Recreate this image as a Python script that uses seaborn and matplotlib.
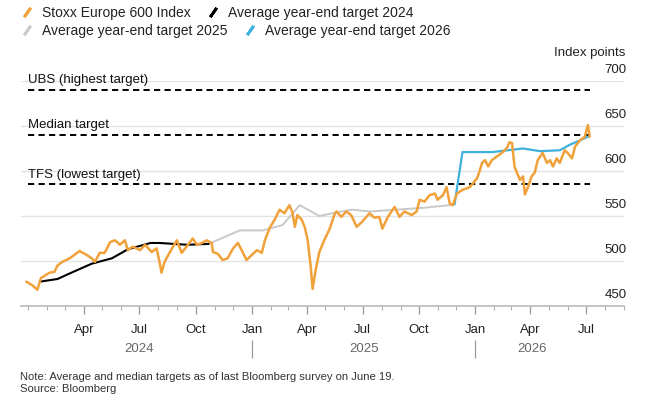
import matplotlib
matplotlib.use("Agg")
import matplotlib.pyplot as plt
import matplotlib.dates as mdates
import matplotlib.transforms as mtransforms
from matplotlib.lines import Line2D
import pandas as pd
import seaborn as sns

# Stoxx Europe 600 index
stoxx_dates = [
    "2023-12-29", "2024-01-08", "2024-01-16", "2024-01-22", "2024-02-05", "2024-02-13",
    "2024-02-18", "2024-02-26", "2024-03-09", "2024-03-25", "2024-04-05", "2024-04-14",
    "2024-04-19", "2024-04-27", "2024-05-05", "2024-05-14", "2024-05-22", "2024-05-30",
    "2024-06-07", "2024-06-12", "2024-06-20", "2024-07-02", "2024-07-10", "2024-07-21",
    "2024-07-29", "2024-08-03", "2024-08-06", "2024-08-11", "2024-08-19", "2024-08-31",
    "2024-09-08", "2024-09-18", "2024-09-26", "2024-10-03", "2024-10-11", "2024-10-19",
    "2024-10-27", "2024-10-29", "2024-11-06", "2024-11-14", "2024-11-22", "2024-12-01",
    "2024-12-09", "2024-12-15", "2024-12-23", "2025-01-01", "2025-01-09", "2025-01-17",
    "2025-01-22", "2025-01-30", "2025-02-07", "2025-02-15", "2025-02-23", "2025-03-03",
    "2025-03-08", "2025-03-12", "2025-03-16", "2025-03-23", "2025-03-28", "2025-04-02",
    "2025-04-07", "2025-04-10", "2025-04-15", "2025-04-21", "2025-04-29", "2025-05-08",
    "2025-05-16", "2025-05-19", "2025-05-27", "2025-06-04", "2025-06-12", "2025-06-21",
    "2025-06-29", "2025-07-07", "2025-07-12", "2025-07-20", "2025-07-28", "2025-08-02",
    "2025-08-11", "2025-08-22", "2025-08-30", "2025-09-07", "2025-09-19", "2025-09-27",
    "2025-10-02", "2025-10-10", "2025-10-18", "2025-10-27", "2025-10-31", "2025-11-09",
    "2025-11-15", "2025-11-20", "2025-11-25", "2025-12-02", "2025-12-11", "2025-12-23",
    "2026-01-04", "2026-01-08", "2026-01-12", "2026-01-17", "2026-01-22", "2026-01-28",
    "2026-02-05", "2026-02-13", "2026-02-21", "2026-02-26", "2026-03-02", "2026-03-06",
    "2026-03-10", "2026-03-15", "2026-03-20", "2026-03-23", "2026-03-28", "2026-04-03",
    "2026-04-08", "2026-04-13", "2026-04-21", "2026-04-28", "2026-05-03", "2026-05-08",
    "2026-05-14", "2026-05-19", "2026-05-27", "2026-06-01", "2026-06-08", "2026-06-13",
    "2026-06-21", "2026-06-29", "2026-07-04", "2026-07-07",
]
stoxx_values = [
    477, 473, 468, 481, 487, 488,
    495, 499, 503, 511, 507, 503,
    499, 509, 509, 521, 523, 518,
    523, 512, 516, 512, 518, 510,
    514, 498, 487, 499, 509, 523,
    509, 518, 525, 518, 520, 523,
    520, 510, 508, 501, 503, 514,
    520, 512, 501, 507, 512, 509,
    523, 537, 546, 557, 553, 562,
    554, 538, 551, 546, 538, 523,
    493, 469, 490, 510, 523, 536,
    552, 555, 549, 555, 551, 538,
    543, 549, 553, 548, 549, 536,
    549, 560, 549, 555, 551, 555,
    568, 566, 573, 575, 568, 573,
    582, 564, 562, 575, 579, 582,
    592, 600, 609, 612, 605, 612,
    616, 620, 625, 632, 631, 605,
    598, 590, 594, 574, 582, 594,
    598, 612, 620, 609, 612, 605,
    614, 609, 623, 620, 614, 627,
    634, 638, 651, 638,
]

# Average year-end targets
t2024_dates = ["2024-01-20", "2024-02-18", "2024-03-15", "2024-04-14", "2024-05-17",
               "2024-06-12", "2024-07-19", "2024-08-03", "2024-09-17", "2024-10-22"]
t2024_values = [477, 480, 488, 497, 503, 513, 520, 520, 518, 519]

t2025_dates = ["2024-10-22", "2024-12-12", "2025-01-19", "2025-02-20", "2025-03-20",
               "2025-04-21", "2025-05-19", "2025-06-14", "2025-07-12", "2025-08-25",
               "2025-10-07", "2025-11-20", "2025-11-28"]
t2025_values = [519, 534, 534, 540, 562, 550, 554, 557, 555, 557, 559, 562, 563]

t2026_dates = ["2025-11-28", "2025-12-11", "2026-01-29", "2026-03-20", "2026-04-17",
               "2026-05-19", "2026-06-04", "2026-06-21", "2026-07-04"]
t2026_values = [563, 621, 621, 625, 622, 623, 629, 634, 638]

# Strategist targets (dashed lines)
target_names = ["UBS (highest target)", "Median target", "TFS (lowest target)"]
target_values = [690, 640, 585]

series_names = ["Stoxx Europe 600 Index", "Average year-end target 2024",
                "Average year-end target 2025", "Average year-end target 2026"]
series_colors = ["#f0a13a", "#000000", "#c9c9c9", "#3eb1dc"]

sns.set_theme(style="white")
plt.rcParams["font.family"] = ["Liberation Sans", "DejaVu Sans"]

fig = plt.figure(figsize=(6.5, 4.04), dpi=100)
ax = fig.add_axes([0.032, 0.2426, 0.928, 0.557])

line_start = pd.Timestamp("2024-01-01")
line_end = pd.Timestamp("2026-07-08")
ax.hlines(target_values, line_start, line_end, colors="black",
          linestyles=(0, (3.2, 2.2)), lw=1.4, zorder=1.5)
for name, val in zip(target_names, target_values):
    ax.annotate(name, (line_start, val), xytext=(0, 2.5), textcoords="offset points",
                ha="left", va="bottom", fontsize=9.5, color="#111111")

# older lines first so the index sits on top
sns.lineplot(x=pd.to_datetime(t2025_dates), y=t2025_values, ax=ax,
             color=series_colors[2], lw=1.4)
sns.lineplot(x=pd.to_datetime(t2024_dates), y=t2024_values, ax=ax,
             color=series_colors[1], lw=1.5)
sns.lineplot(x=pd.to_datetime(t2026_dates), y=t2026_values, ax=ax,
             color=series_colors[3], lw=1.6)
sns.lineplot(x=pd.to_datetime(stoxx_dates), y=stoxx_values, ax=ax,
             color=series_colors[0], lw=1.8)

ax.set_xlim(pd.Timestamp("2023-12-20"), pd.Timestamp("2026-09-01"))
ax.set_ylim(450, 700)

# gridlines and right-hand labels sitting above them
ax.set_yticks([450, 500, 550, 600, 650, 700])
ax.yaxis.tick_right()
ax.grid(axis="y", color="#e3e3e3", lw=1)
ax.set_axisbelow(True)
ax.tick_params(axis="y", length=0, pad=2, labelsize=9.5, labelcolor="#222222")
lift = mtransforms.ScaledTranslation(0, 0.05, fig.dpi_scale_trans)
for lab in ax.get_yticklabels():
    lab.set_horizontalalignment("right")
    lab.set_verticalalignment("bottom")
    lab.set_transform(lab.get_transform() + lift)
ax.text(1.003, 1.125, "Index points", transform=ax.transAxes, ha="right",
        va="center", fontsize=9.5, color="#222222")

for side in ["top", "left", "right"]:
    ax.spines[side].set_visible(False)
ax.spines["bottom"].set_color("#bdbdbd")

quarter_ticks = pd.date_range("2024-04-01", "2026-07-01", freq="QS")
ax.set_xticks(quarter_ticks)
ax.set_xticklabels([d.strftime("%b") for d in quarter_ticks])
ax.xaxis.set_minor_locator(mdates.MonthLocator())
ax.tick_params(axis="x", which="major", length=6, width=1, color="#a0a0a0",
               pad=7, labelsize=9.5, labelcolor="#222222", bottom=True)
ax.tick_params(axis="x", which="minor", length=3, width=0.8, color="#b0b0b0",
               bottom=True)
ax.set_xlabel("")
ax.set_ylabel("")

# year row with separators
years = ["2024", "2025", "2026"]
year_pos = pd.to_datetime(["2024-07-01", "2025-07-03", "2026-04-03"])
for yr, pos in zip(years, year_pos):
    ax.text(pos, -0.19, yr, transform=ax.get_xaxis_transform(), ha="center",
            va="center", fontsize=9.5, color="#666666")
sep = ax.secondary_xaxis(-0.19)
sep.set_xticks(pd.to_datetime(["2025-01-01", "2026-01-01"]))
sep.set_xticklabels(["", ""])
sep.spines["bottom"].set_visible(False)
sep.tick_params(axis="x", direction="inout", length=13, width=0.9, color="#9a9a9a")

# legend in two rows, like the reference
def handle(c):
    return Line2D([], [], color=c, marker=(2, 2, -35), markersize=8,
                  markeredgewidth=2, linestyle="None")

leg1 = fig.legend([handle(series_colors[0]), handle(series_colors[1])],
                  series_names[:2], loc="upper left", bbox_to_anchor=(0.02, 1.0),
                  ncol=2, frameon=False, fontsize=10, handlelength=1.2,
                  handletextpad=0.5, columnspacing=1.0, borderaxespad=0)
leg2 = fig.legend([handle(series_colors[2]), handle(series_colors[3])],
                  series_names[2:], loc="upper left", bbox_to_anchor=(0.02, 0.955),
                  ncol=2, frameon=False, fontsize=10, handlelength=1.2,
                  handletextpad=0.5, columnspacing=1.0, borderaxespad=0)
for leg in (leg1, leg2):
    for t in leg.get_texts():
        t.set_color("#222222")

fig.text(0.031, 0.068, "Note: Average and median targets as of last Bloomberg survey on June 19.",
         fontsize=8.1, color="#333333", va="center")
fig.text(0.031, 0.036, "Source: Bloomberg", fontsize=8.1, color="#333333", va="center")

fig.savefig("out.png", dpi=100)
